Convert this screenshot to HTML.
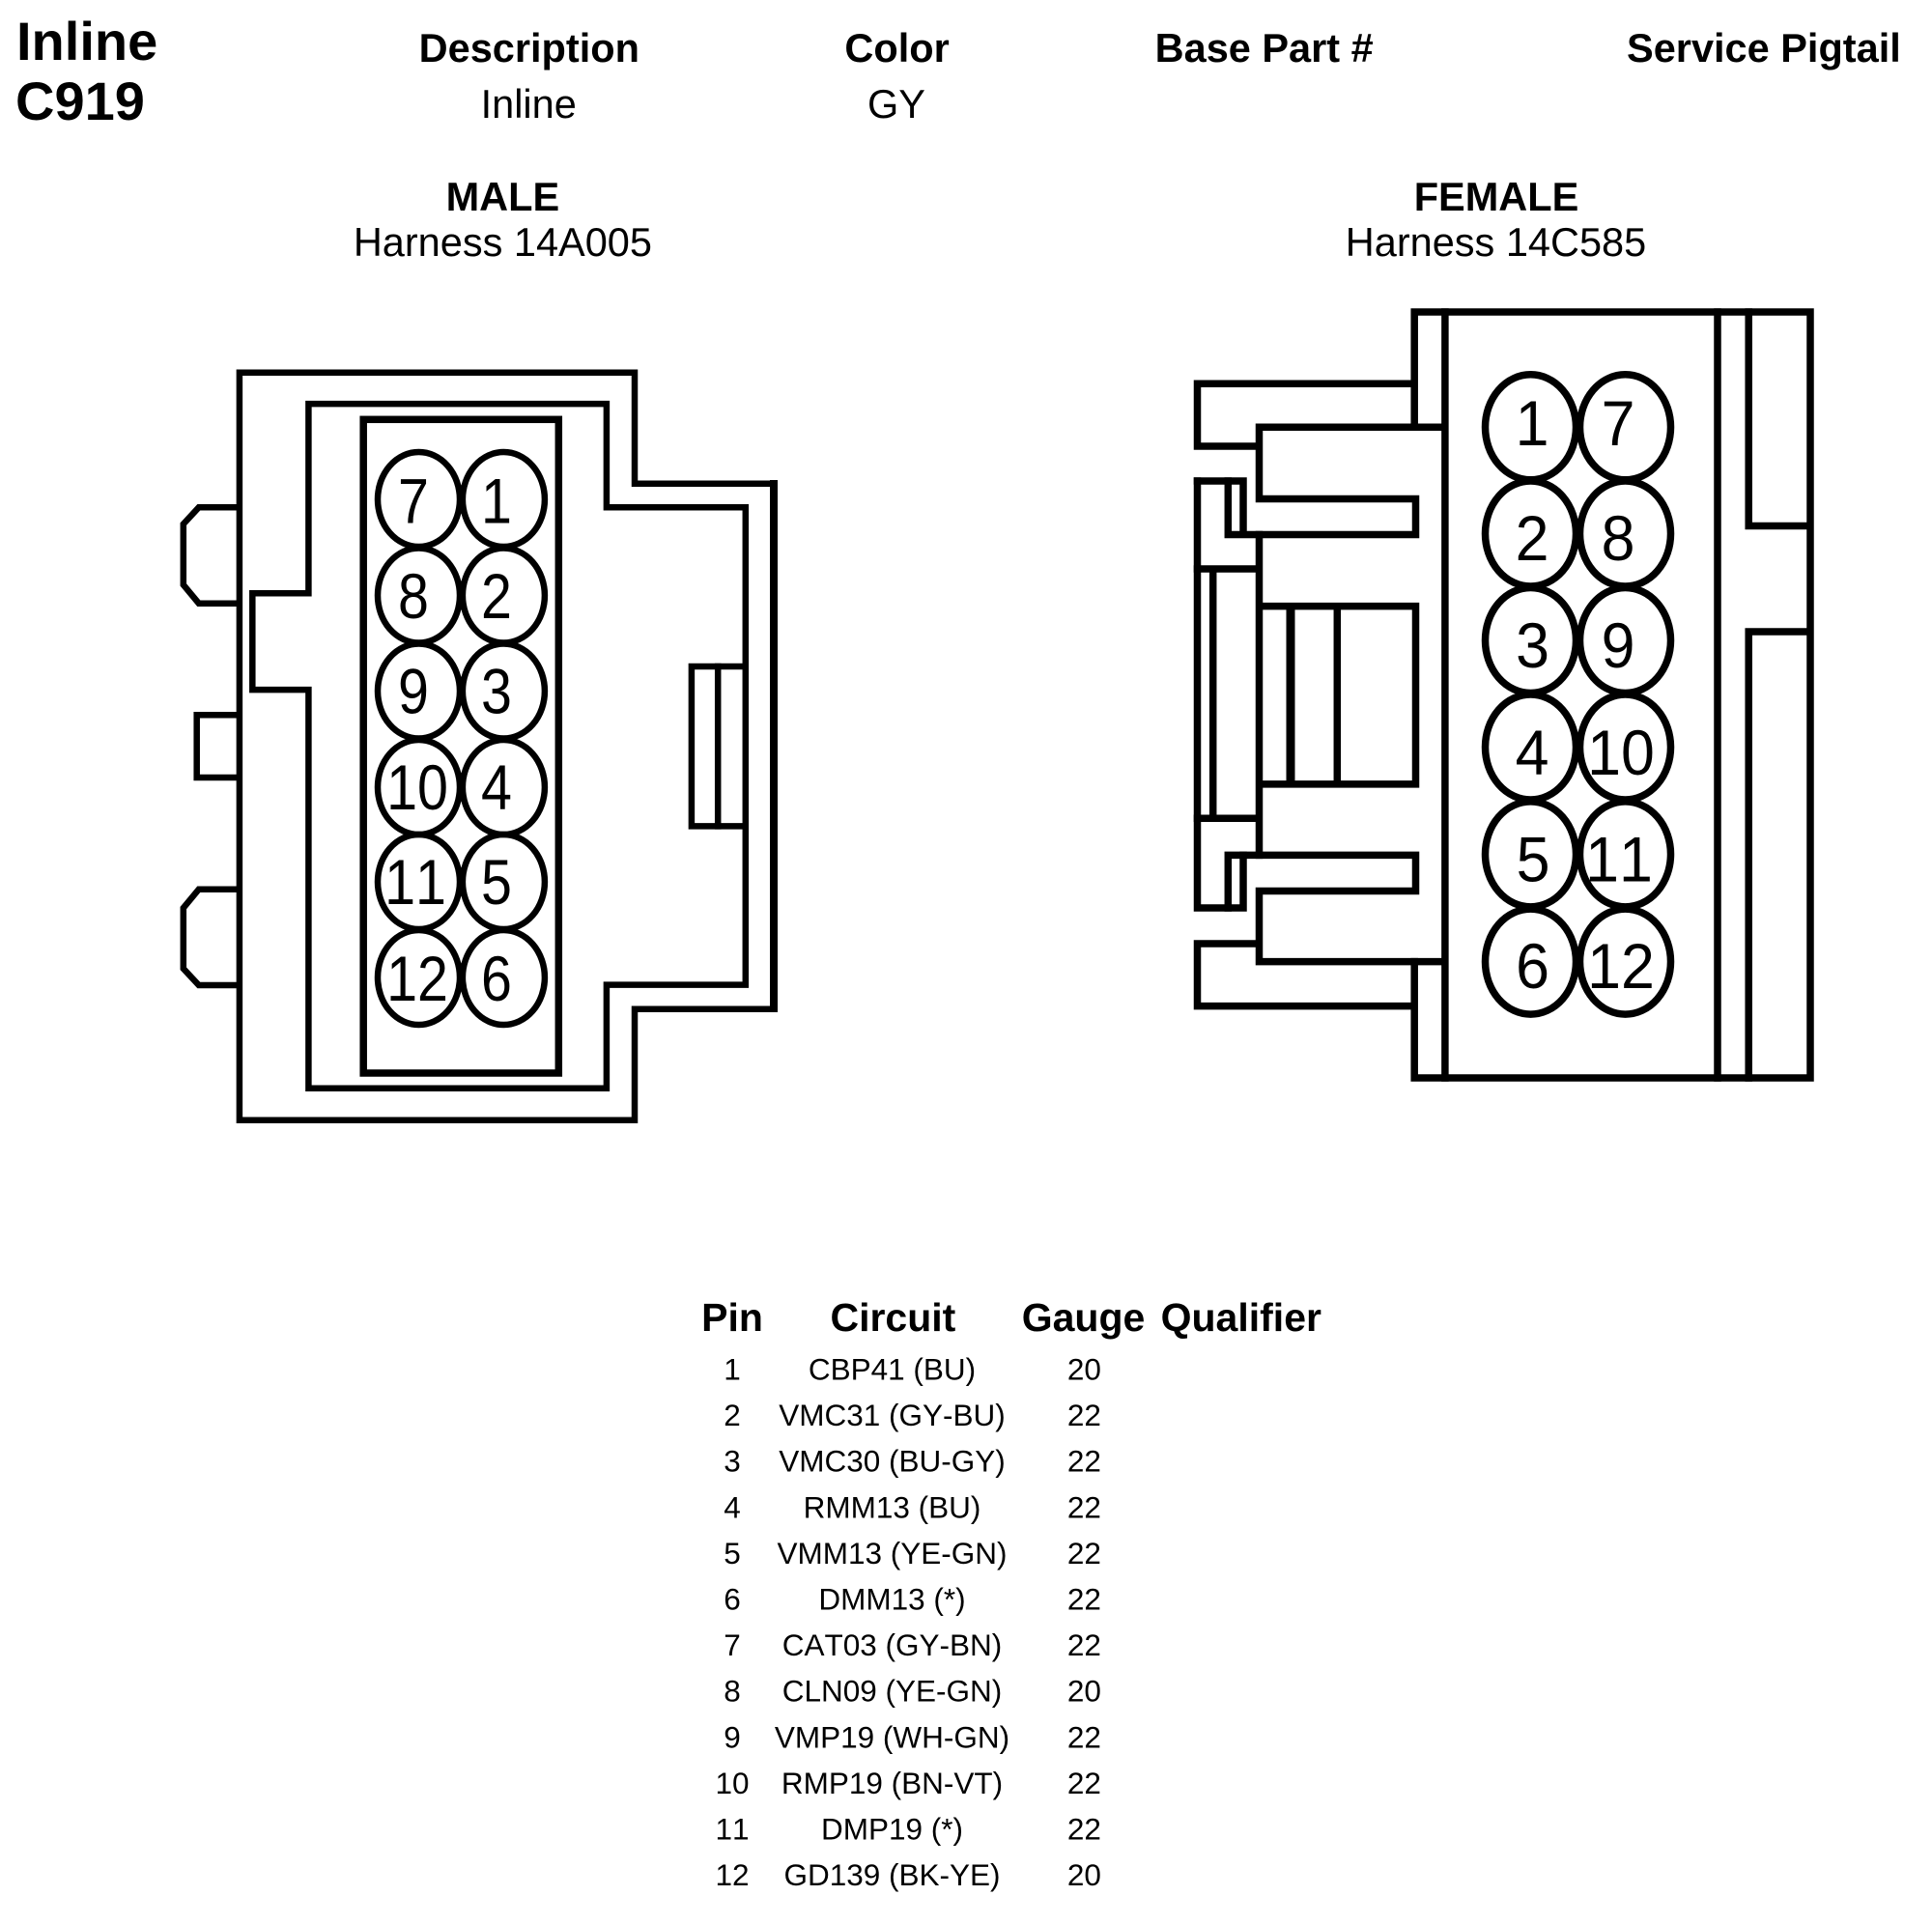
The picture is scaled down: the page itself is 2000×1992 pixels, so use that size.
<!DOCTYPE html>
<html><head><meta charset="utf-8"><title>Inline C919</title>
<style>
html,body{margin:0;padding:0;background:#fff}
svg{display:block}
text{font-family:"Liberation Sans",Arial,sans-serif;fill:#000;font-kerning:none}
.b{font-weight:bold}
.m{text-anchor:middle}
.h{font-size:41.5px}
.t{font-size:31.5px;text-anchor:middle}
.th{font-size:41px;font-weight:bold;text-anchor:middle}
.d{font-size:66px;text-anchor:middle}
path,rect,ellipse,line{fill:none;stroke:#000;stroke-linejoin:miter;stroke-linecap:square}
.w6{stroke-width:6.5px}
.w7{stroke-width:7.5px}
</style></head><body>
<svg width="2000" height="1992" viewBox="0 0 2000 1992" xmlns="http://www.w3.org/2000/svg">
<rect x="0" y="0" width="2000" height="1992" style="fill:#fff;stroke:none"/>

<text x="17" y="62" class="b" font-size="56">Inline</text>
<text x="16" y="124" class="b" font-size="56">C919</text>
<text x="547.8" y="64" class="h b m">Description</text>
<text x="928.6" y="64" class="h b m">Color</text>
<text x="1308.7" y="64" class="h b m">Base Part #</text>
<text x="1825.9" y="64" class="h b m">Service Pigtail</text>
<text x="547.2" y="122" class="h m">Inline</text>
<text x="928" y="122" class="h m">GY</text>
<text x="520.4" y="218" class="h b m">MALE</text>
<text x="520.4" y="265" class="h m">Harness 14A005</text>
<text x="1549" y="218" class="h b m">FEMALE</text>
<text x="1548.5" y="265" class="h m">Harness 14C585</text>

<!-- MALE -->
<g>
<path class="w6" d="M247.9 385.7H657V500.8H801V1044.7H657V1159.8H247.9Z"/>
<line style="stroke-width:8px" x1="801" y1="501" x2="801" y2="1044"/>
<path class="w6" d="M319.4 418.1H627.9V525.3H771.8V1019.6H627.9V1126.8H319.4V714.1H261.3V614.2H319.4Z"/>
<rect class="w7" x="376.2" y="434.3" width="202.1" height="676.7"/>
<path class="w6" d="M245 525.3H205.8L189.8 542.6V605.4L205.8 624.7H245"/>
<path class="w6" d="M245 740.3H203.7V805H245"/>
<path class="w6" d="M245 920.7H205.8L189.8 940V1002.8L205.8 1020H245"/>
<path class="w6" d="M769 690H715.9V855.4H769"/>
<line class="w6" x1="743.2" y1="690" x2="743.2" y2="855.4"/>
</g>
<g>
<ellipse class="w6" cx="433.5" cy="517" rx="42.5" ry="49"/><ellipse class="w6" cx="521.4" cy="517" rx="42.5" ry="49"/>
<ellipse class="w6" cx="433.5" cy="616.5" rx="42.5" ry="49"/><ellipse class="w6" cx="521.4" cy="616.5" rx="42.5" ry="49"/>
<ellipse class="w6" cx="433.5" cy="715.5" rx="42.5" ry="49"/><ellipse class="w6" cx="521.4" cy="715.5" rx="42.5" ry="49"/>
<ellipse class="w6" cx="433.5" cy="815" rx="42.5" ry="49"/><ellipse class="w6" cx="521.4" cy="815" rx="42.5" ry="49"/>
<ellipse class="w6" cx="433.5" cy="913" rx="42.5" ry="49"/><ellipse class="w6" cx="521.4" cy="913" rx="42.5" ry="49"/>
<ellipse class="w6" cx="433.5" cy="1012" rx="42.5" ry="49"/><ellipse class="w6" cx="521.4" cy="1012" rx="42.5" ry="49"/>
</g>
<g>
<text class="d" transform="translate(428,541.5) scale(.87,1)">7</text><text class="d" transform="translate(514,541.5) scale(.87,1)">1</text>
<text class="d" transform="translate(428,640) scale(.87,1)">8</text><text class="d" transform="translate(514,640) scale(.87,1)">2</text>
<text class="d" transform="translate(428,738.7) scale(.87,1)">9</text><text class="d" transform="translate(514,738.7) scale(.87,1)">3</text>
<text class="d" transform="translate(432,838) scale(.87,1)">10</text><text class="d" transform="translate(514,838) scale(.87,1)">4</text>
<text class="d" transform="translate(430,936) scale(.87,1)">11</text><text class="d" transform="translate(514,936) scale(.87,1)">5</text>
<text class="d" transform="translate(432,1035.8) scale(.87,1)">12</text><text class="d" transform="translate(514,1035.8) scale(.87,1)">6</text>
</g>

<!-- FEMALE -->
<g>
<path class="w7" d="M1464.2 442.3V323H1874V1116H1464.2V995.6"/>
<line class="w7" x1="1495.9" y1="323" x2="1495.9" y2="1116"/>
<line class="w7" x1="1778" y1="323" x2="1778" y2="1116"/>
<path class="w7" d="M1810.2 323V544.5H1871"/>
<path class="w7" d="M1871 654H1810.2V1116"/>
<path class="w7" d="M1462 397.3H1239.5V462H1301"/>
<path class="w7" d="M1301 977H1239.5V1041.6H1462"/>
<path class="w7" d="M1493 442.3H1303.5V516.5H1465.5V553.5H1271.3V498"/>
<path class="w7" d="M1239.5 498H1287V553"/>
<path class="w7" d="M1239.5 498V940H1287V885.4"/>
<path class="w7" d="M1271.3 940V885.4H1465.5V922.5H1303.5V995.6H1493"/>
<line class="w7" x1="1303.5" y1="553.5" x2="1303.5" y2="885.4"/>
<line class="w7" x1="1239.5" y1="589" x2="1301" y2="589"/>
<line class="w7" x1="1239.5" y1="847.3" x2="1301" y2="847.3"/>
<line class="w7" x1="1255.7" y1="592" x2="1255.7" y2="844"/>
<path class="w7" d="M1306 627.6H1465.5V811.9H1306"/>
<line style="stroke-width:9px;stroke-linecap:butt" x1="1336" y1="627.6" x2="1336" y2="811.9"/>
<line class="w7" style="stroke-linecap:butt" x1="1384.3" y1="627.6" x2="1384.3" y2="811.9"/>
</g>
<g>
<ellipse class="w7" cx="1584.5" cy="442.3" rx="47" ry="54.5"/><ellipse class="w7" cx="1682.5" cy="442.3" rx="47" ry="54.5"/>
<ellipse class="w7" cx="1584.5" cy="552.5" rx="47" ry="54.5"/><ellipse class="w7" cx="1682.5" cy="552.5" rx="47" ry="54.5"/>
<ellipse class="w7" cx="1584.5" cy="663" rx="47" ry="54.5"/><ellipse class="w7" cx="1682.5" cy="663" rx="47" ry="54.5"/>
<ellipse class="w7" cx="1584.5" cy="773.5" rx="47" ry="54.5"/><ellipse class="w7" cx="1682.5" cy="773.5" rx="47" ry="54.5"/>
<ellipse class="w7" cx="1584.5" cy="884.4" rx="47" ry="54.5"/><ellipse class="w7" cx="1682.5" cy="884.4" rx="47" ry="54.5"/>
<ellipse class="w7" cx="1584.5" cy="995.6" rx="47" ry="54.5"/><ellipse class="w7" cx="1682.5" cy="995.6" rx="47" ry="54.5"/>
</g>
<g>
<text class="d" transform="translate(1586,460.9) scale(.95,1)">1</text><text class="d" transform="translate(1675,460.9) scale(.95,1)">7</text>
<text class="d" transform="translate(1586,580) scale(.95,1)">2</text><text class="d" transform="translate(1675,580) scale(.95,1)">8</text>
<text class="d" transform="translate(1586.5,691) scale(.95,1)">3</text><text class="d" transform="translate(1675,691) scale(.95,1)">9</text>
<text class="d" transform="translate(1586,802) scale(.95,1)">4</text><text class="d" transform="translate(1678,802) scale(.95,1)">10</text>
<text class="d" transform="translate(1587,912.4) scale(.95,1)">5</text><text class="d" transform="translate(1676,912.4) scale(.95,1)">11</text>
<text class="d" transform="translate(1586.5,1023) scale(.95,1)">6</text><text class="d" transform="translate(1678,1023) scale(.95,1)">12</text>
</g>

<!-- TABLE -->
<text class="th" x="758" y="1378">Pin</text>
<text class="th" x="924.4" y="1378">Circuit</text>
<text class="th" x="1121.5" y="1378">Gauge</text>
<text class="th" x="1284.8" y="1378">Qualifier</text>

<g>
<text class="t" x="758" y="1428.5">1</text><text class="t" x="923.5" y="1428.5">CBP41 (BU)</text><text class="t" x="1122.4" y="1428.5">20</text>
<text class="t" x="758" y="1476.1">2</text><text class="t" x="923.5" y="1476.1">VMC31 (GY-BU)</text><text class="t" x="1122.4" y="1476.1">22</text>
<text class="t" x="758" y="1523.7">3</text><text class="t" x="923.5" y="1523.7">VMC30 (BU-GY)</text><text class="t" x="1122.4" y="1523.7">22</text>
<text class="t" x="758" y="1571.3">4</text><text class="t" x="923.5" y="1571.3">RMM13 (BU)</text><text class="t" x="1122.4" y="1571.3">22</text>
<text class="t" x="758" y="1618.9">5</text><text class="t" x="923.5" y="1618.9">VMM13 (YE-GN)</text><text class="t" x="1122.4" y="1618.9">22</text>
<text class="t" x="758" y="1666.5">6</text><text class="t" x="923.5" y="1666.5">DMM13 (*)</text><text class="t" x="1122.4" y="1666.5">22</text>
<text class="t" x="758" y="1714.1">7</text><text class="t" x="923.5" y="1714.1">CAT03 (GY-BN)</text><text class="t" x="1122.4" y="1714.1">22</text>
<text class="t" x="758" y="1761.7">8</text><text class="t" x="923.5" y="1761.7">CLN09 (YE-GN)</text><text class="t" x="1122.4" y="1761.7">20</text>
<text class="t" x="758" y="1809.3">9</text><text class="t" x="923.5" y="1809.3">VMP19 (WH-GN)</text><text class="t" x="1122.4" y="1809.3">22</text>
<text class="t" x="758" y="1856.9">10</text><text class="t" x="923.5" y="1856.9">RMP19 (BN-VT)</text><text class="t" x="1122.4" y="1856.9">22</text>
<text class="t" x="758" y="1904.5">11</text><text class="t" x="923.5" y="1904.5">DMP19 (*)</text><text class="t" x="1122.4" y="1904.5">22</text>
<text class="t" x="758" y="1952.1">12</text><text class="t" x="923.5" y="1952.1">GD139 (BK-YE)</text><text class="t" x="1122.4" y="1952.1">20</text>
</g>
</svg>
</body></html>
